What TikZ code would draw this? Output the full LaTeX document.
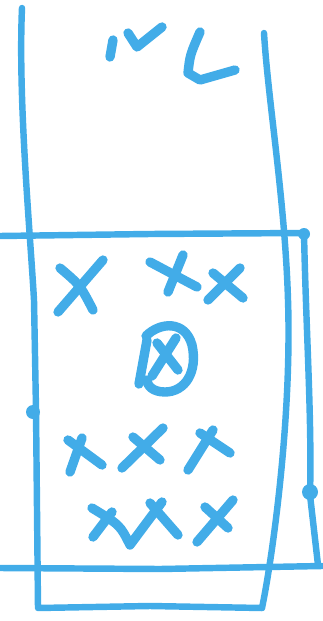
\documentclass[tikz,border=0pt]{standalone}
\definecolor{marker}{RGB}{66,172,232}
\begin{document}
\begin{tikzpicture}[
  x=0.03cm, y=-0.03cm,
  frame/.style={draw=marker, line width=5.5pt, line cap=round, line join=round},
  cross/.style={draw=marker, line width=8pt, line cap=round, line join=round}
]
  \useasboundingbox (0,0) rectangle (322,621);

  % tall box
  \draw[frame] (22,8) .. controls (18,100) and (30,230) .. (34,300)
    -- (36,410) -- (38,608) -- (150,606) -- (262,608);
  \draw[frame] (262,608) .. controls (272,560) and (292,420) .. (288,300)
    .. controls (285,200) and (268,100) .. (264,33);
  \fill[marker] (33,412) circle (7);

  % wide box
  \draw[frame] (0,236) -- (150,234) -- (304,233)
    .. controls (306,330) and (312,420) .. (310,495)
    -- (318,565);
  \draw[frame] (0,568) -- (160,569) -- (322,566);
  \fill[marker] (310,492) circle (8);
  \fill[marker] (304,234) circle (6);

  % squiggles at top
  \draw[cross] (113,40) -- (110,57);
  \draw[cross] (128,33) -- (137,47) -- (162,27);
  \draw[cross] (200,32) .. controls (190,55) .. (188,73) -- (200,80) -- (235,70);

  % crosses, first row
  \draw[cross] (60,268) .. controls (80,285) .. (93,310);
  \draw[cross] (103,260) -- (58,312);
  \draw[cross] (150,262) -- (197,287);
  \draw[cross] (183,255) -- (168,292);
  \draw[cross] (213,273) -- (243,298);
  \draw[cross] (240,268) -- (208,300);

  % circled cross
  \draw[cross] (146,336) .. controls (160,322) and (185,320) .. (192,345)
    .. controls (198,372) and (185,392) .. (165,392)
    .. controls (152,392) and (147,385) .. (147,380);
  \draw[cross] (147,340) -- (139,384);
  \draw[cross] (157,343) -- (178,370);
  \draw[cross] (176,338) -- (152,376);

  % crosses, second row
  \draw[cross] (68,440) -- (102,465);
  \draw[cross] (82,438) -- (70,472);
  \draw[cross] (163,428) -- (122,468);
  \draw[cross] (133,437) -- (160,460);
  \draw[cross] (213,430) -- (188,470);
  \draw[cross] (200,433) -- (230,453);

  % crosses, third row
  \draw[cross] (92,508) .. controls (120,525) .. (130,545) -- (162,502);
  \draw[cross] (112,512) -- (93,537);
  \draw[cross] (150,503) -- (178,535);
  \draw[cross] (233,500) -- (197,542);
  \draw[cross] (205,507) -- (228,528);
\end{tikzpicture}
\end{document}
